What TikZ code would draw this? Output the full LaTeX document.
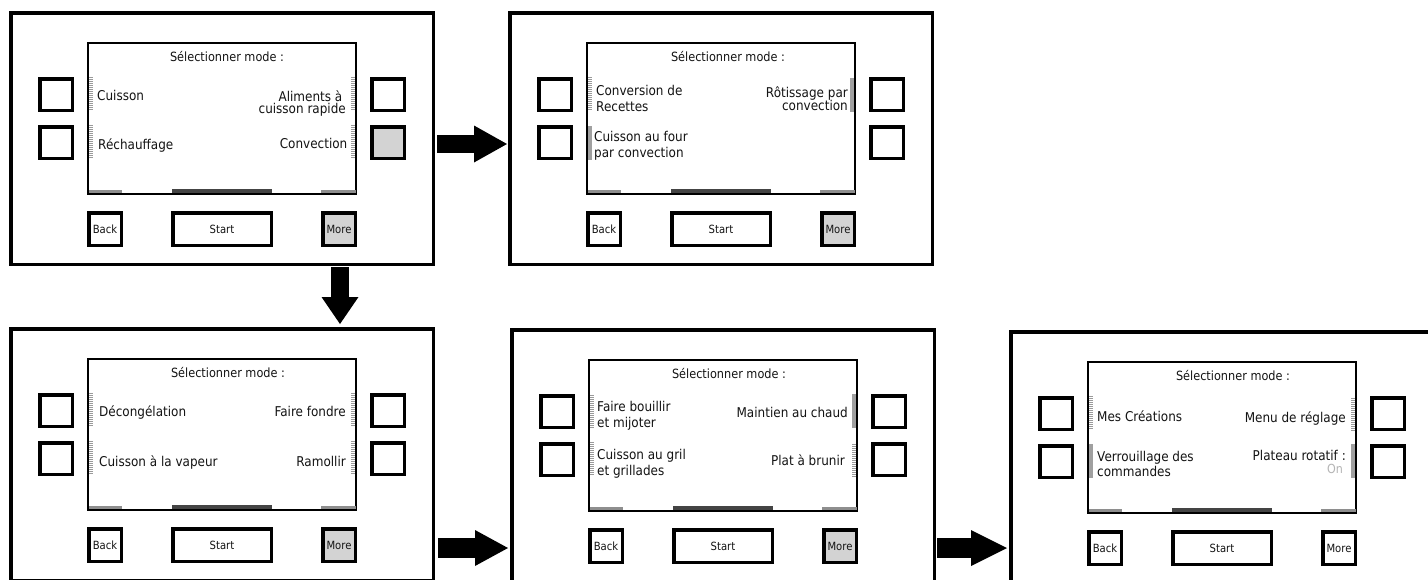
\documentclass[tikz,border=0pt]{standalone}
\usepackage{fontspec}
\setmainfont{DejaVu Sans}[FakeStretch=0.89]
\usetikzlibrary{arrows.meta}
\definecolor{btngray}{HTML}{D3D3D3}
\definecolor{hashgray}{HTML}{9A9A9A}
\definecolor{sidebar}{HTML}{8E8E8E}
\definecolor{midbar}{HTML}{444444}
\definecolor{solidgray}{HTML}{A0A0A0}
\definecolor{ongray}{HTML}{B4B4B4}
\definecolor{txt}{HTML}{141414}
% rectangular node given by outer top-left corner, outer size and line width
\newcommand\rn[8]{\node[#1, minimum width={(#5)-(#7)}, minimum height={(#6)-(#7)}] (#2) at ({(#3)+(#5)/2},{(#4)+(#6)/2}) {#8};}
% one control panel, given by the top-left corner of its screen
\newcommand\panel[6]{%
  \rn{outerbox}{#1}{#2-78}{#3-31}{426}{255}{3.5}{}
  \rn{scr}{#1s}{#2}{#3}{270}{153}{2}{}
  \fill[sidebar] ({#2+1.5},{#3+147.5}) rectangle ({#2+35},{#3+151});
  \fill[midbar] ({#2+85},{#3+146.5}) rectangle ({#2+185},{#3+151});
  \fill[sidebar] ({#2+234},{#3+147.5}) rectangle ({#2+268.5},{#3+151});
  \rn{btn}{#1l1}{#2-49}{#3+35}{36}{35}{3.5}{}
  \rn{btn}{#1l2}{#2-49}{#3+83}{36}{35}{3.5}{}
  \rn{btn}{#1r1}{#2+283}{#3+35}{36}{35}{3.5}{}
  \rn{btn,fill=#4}{#1r2}{#2+283}{#3+83}{36}{35}{3.5}{}
  \rn{btn}{#1back}{#2}{#3+169}{36}{36}{3.5}{Back}
  \rn{btn}{#1start}{#2+84}{#3+169}{102}{36}{3.5}{Start}
  \rn{btn,fill=#5}{#1more}{#2+234}{#3+169}{36}{36}{3.5}{More}
  \node[hdr] (#1h) at ({#2+#6},{#3+19}) {Sélectionner mode :};
}
% scroll indicator: style, screen x, screen y, side offset, item offset
\newcommand\ind[5]{\draw[#1] ({#2+#4},{#3+#5}) -- ++(0,34);}
\begin{document}
\begin{tikzpicture}[x=1pt,y=-1pt,
  outerbox/.style={draw=black,line width=3.5pt,inner sep=0pt,fill=white},
  scr/.style={draw=black,line width=2pt,inner sep=0pt,fill=white},
  btn/.style={draw=black,line width=3.5pt,inner sep=0pt,fill=white,text=txt,font=\fontsize{11.3}{12}\selectfont},
  hdr/.style={inner sep=0pt,anchor=base,text=txt,font=\fontsize{12.7}{14}\selectfont},
  optl/.style={inner sep=0pt,anchor=base west,text=txt,font=\fontsize{13.5}{15}\selectfont},
  optr/.style={optl,anchor=base east},
  hashst/.style={draw=hashgray,line width=3.5pt,dash pattern=on 1pt off 1pt},
  solidst/.style={draw=solidgray,line width=3.5pt},
  blk/.style={draw=black,line width=#1},
  blk/.default=18pt,
]
\fill[white] (0,0) rectangle (1428,579);
\useasboundingbox (0,0) rectangle (1428,579);

% ---- panel 1
\panel{p1}{87}{42}{btngray}{btngray}{140}
\ind{hashst}{87}{42}{3.75}{35}\ind{hashst}{87}{42}{3.75}{83}
\ind{hashst}{87}{42}{266}{35}\ind{hashst}{87}{42}{266}{83}
\node[optl] (p1a) at (97,100.5) {Cuisson};
\node[optl] (p1b) at (98,149) {Réchauffage};
\node[optr] (p1c) at (342.5,101) {Aliments à};
\node[optr] (p1d) at (346,113) {cuisson rapide};
\node[optr] (p1e) at (347.5,148) {Convection};

% ---- panel 2
\panel{p2}{586}{42}{white}{btngray}{142}
\ind{hashst}{586}{42}{3.75}{35}\ind{solidst}{586}{42}{3.75}{84}
\ind{solidst}{586}{42}{266}{36}
\node[optl] (p2a) at (596,95) {Conversion de};
\node[optl] (p2b) at (596,111) {Recettes};
\node[optl] (p2c) at (594,141) {Cuisson au four};
\node[optl] (p2d) at (594,157) {par convection};
\node[optr] (p2e) at (848,97) {Rôtissage par};
\node[optr] (p2f) at (848,110) {convection};

% ---- panel 3
\panel{p3}{87}{358}{white}{btngray}{141}
\ind{hashst}{87}{358}{3.75}{35}\ind{hashst}{87}{358}{3.75}{83}
\ind{hashst}{87}{358}{266}{35}\ind{hashst}{87}{358}{266}{83}
\node[optl] (p3a) at (99,416.5) {Décongélation};
\node[optl] (p3b) at (99,466) {Cuisson à la vapeur};
\node[optr] (p3c) at (346,416.5) {Faire fondre};
\node[optr] (p3d) at (346,466) {Ramollir};

% ---- panel 4
\panel{p4}{588}{359}{white}{btngray}{141}
\ind{hashst}{588}{359}{3.75}{36}\ind{hashst}{588}{359}{3.75}{83}
\ind{solidst}{588}{359}{266}{35}\ind{hashst}{588}{359}{266}{85}
\node[optl] (p4a) at (597,411.5) {Faire bouillir};
\node[optl] (p4b) at (597,427.3) {et mijoter};
\node[optl] (p4c) at (597,459) {Cuisson au gril};
\node[optl] (p4d) at (597,475) {et grillades};
\node[optr] (p4e) at (848,417) {Maintien au chaud};
\node[optr] (p4f) at (845,465.5) {Plat à brunir};

% ---- panel 5
\panel{p5}{1087}{361}{white}{white}{146}
\ind{hashst}{1087}{361}{3.75}{35}\ind{solidst}{1087}{361}{3.75}{83}
\ind{hashst}{1087}{361}{266}{37}\ind{solidst}{1087}{361}{266}{83}
\node[optl] (p5a) at (1097,421.5) {Mes Créations};
\node[optl] (p5b) at (1097,461) {Verrouillage des};
\node[optl] (p5c) at (1097,476.5) {commandes};
\node[optr] (p5d) at (1346,422.5) {Menu de réglage};
\node[optr] (p5e) at (1346,460.5) {Plateau rotatif :};
\node[optr,text=ongray,font=\fontsize{12.5}{14}\selectfont] (p5f) at (1343,473.3) {On};

% ---- arrows
\coordinate (a1s) at (437,144);  \coordinate (a1e) at (507,144);
\coordinate (a2s) at (340,267);  \coordinate (a2e) at (340,324);
\coordinate (a3s) at (438,548);  \coordinate (a3e) at (508,548);
\coordinate (a4s) at (937,548);  \coordinate (a4e) at (1007,548);
\draw[blk, -{Triangle[length=33pt 0 0,width=37pt 0 0,line width=0pt 0 0]}] (a1s) -- (a1e);
\draw[blk, -{Triangle[length=27pt 0 0,width=37pt 0 0,line width=0pt 0 0]}] (a2s) -- (a2e);
\draw[blk=20pt, -{Triangle[length=33pt 0 0,width=36pt 0 0,line width=0pt 0 0]}] (a3s) -- (a3e);
\draw[blk=20pt, -{Triangle[length=36pt 0 0,width=36pt 0 0,line width=0pt 0 0]}] (a4s) -- (a4e);
\end{tikzpicture}
\end{document}
